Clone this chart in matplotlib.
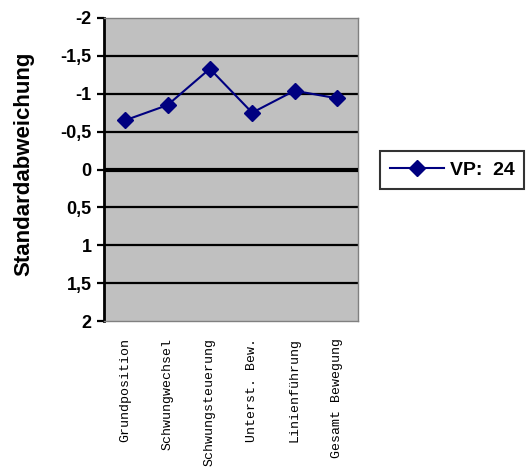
import matplotlib
matplotlib.use("Agg")
import matplotlib.pyplot as plt

# ── Data ──────────────────────────────────────────────────────────────────────
categories = ["Grundposition", "Schwungwechsel", "Schwungsteuerung",
              "Unterst. Bew.", "Linienführung", "Gesamt Bewegung"]
values     = [-0.65, -0.85, -1.33, -0.75, -1.04, -0.94]
series     = "VP:  24"
yticks     = [-2, -1.5, -1, -0.5, 0, 0.5, 1, 1.5, 2]
ytick_lbls = ["-2", "-1,5", "-1", "-0,5", "0", "0,5", "1", "1,5", "2"]

NAVY = "#000080"

fig = plt.figure(figsize=(5.28, 4.68), dpi=100)
ax = fig.add_axes([104 / 528, 1 - 321 / 468, 254 / 528, 303 / 468])
ax.set_facecolor("#c0c0c0")

x = list(range(len(categories)))
ax.plot(x, values, color=NAVY, linewidth=1.5, marker="D", markersize=8,
        markerfacecolor=NAVY, markeredgecolor=NAVY, label=series, zorder=4)

ax.set_xlim(-0.5, len(categories) - 0.5)
ax.set_ylim(2, -2)   # inverted axis

for y in yticks:
    if y == 0:
        ax.axhline(y, color="black", linewidth=3, zorder=3)
    elif abs(y) != 2:
        ax.axhline(y, color="black", linewidth=1.6, zorder=2)

ax.set_yticks(yticks)
ax.set_yticklabels(ytick_lbls, fontsize=13, fontweight="bold",
                   family="Liberation Sans")
ax.tick_params(axis="y", direction="out", length=5, width=1.6, pad=4)
ax.set_xticks(x)
ax.set_xticklabels(categories, rotation=90, fontsize=9.5,
                   family="Liberation Mono")
ax.tick_params(axis="x", length=0, pad=12)

for side in ["top", "right", "bottom"]:
    ax.spines[side].set_color("#808080")
    ax.spines[side].set_linewidth(1)
ax.spines["left"].set_color("black")
ax.spines["left"].set_linewidth(2)

fig.text(24 / 528, 1 - 164 / 468, "Standardabweichung", rotation=90,
         ha="center", va="center", fontsize=16, fontweight="bold",
         family="Liberation Sans")

leg = fig.legend(loc="center left", bbox_to_anchor=(380 / 528, 1 - 170 / 468),
                 frameon=True, fancybox=False, handlelength=2.8,
                 prop={"family": "Liberation Sans", "weight": "bold", "size": 14},
                 borderpad=0.5, borderaxespad=0, handletextpad=0.3)
leg.get_frame().set_edgecolor("black")
leg.get_frame().set_linewidth(1.5)

fig.savefig("out.png", dpi=100)
